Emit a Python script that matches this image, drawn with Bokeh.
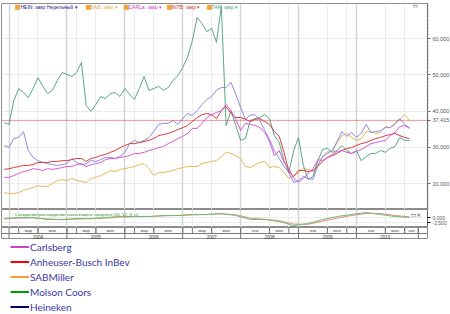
import pandas as pd
from bokeh.plotting import figure
from bokeh.layouts import column
from bokeh.models import (Range1d, FixedTicker, NumeralTickFormatter,
                          Span, Label, Grid, Legend, LegendItem, ColumnDataSource)
from bokeh.embed import file_html
from bokeh.resources import INLINE

# ---------------- data ----------------
months = [str(m) for m in pd.period_range("2003-12", "2010-12", freq="M")]

heineken = [30500, 29900, 32400, 32700, 34300, 29100, 27200, 26300, 25800, 25500, 25200, 25000,
            25200, 25500, 26900, 25800, 25200, 25500, 26300, 26100, 26600, 27200, 27200, 26900,
            27400, 28600, 31000, 31900, 31300, 31900, 32700, 34300, 36300, 36600, 36600, 37400,
            36300, 37900, 39300, 38800, 40100, 41800, 43200, 44000, 45700, 46500, 46500, 47900,
            44600, 41000, 37700, 38800, 39000, 37400, 34600, 32100, 29100, 26900, 24700, 23000,
            20300, 20800, 21900, 21400, 21100, 25000, 27400, 28300, 29100, 31600, 34300, 33000,
            34100, 32700, 33800, 36300, 34100, 34300, 34600, 35400, 35400, 36300, 37900, 36300, 35400]
sabmiller = [17500, 17200, 17200, 17500, 18100, 18600, 18900, 19400, 19200, 19200, 20000, 20800,
             21100, 20800, 21400, 20800, 20600, 20300, 21400, 21700, 22200, 22800, 23600, 23300,
             23900, 24100, 24400, 24700, 25200, 25500, 24100, 22200, 23000, 23000, 23300, 23600,
             24100, 24400, 24700, 24700, 24700, 25500, 25800, 26100, 26300, 27400, 28600, 28300,
             27700, 26900, 24700, 24400, 25200, 25800, 26100, 24400, 24700, 24400, 23000, 21400,
             22200, 23000, 24100, 23900, 23300, 25200, 27400, 28800, 28800, 31300, 33200, 33800,
             32700, 31900, 32400, 34300, 34300, 33800, 34100, 35700, 35400, 36800, 37700, 39000, 37400]
carlsberg = [21700, 21700, 22200, 22800, 23300, 23600, 24100, 23900, 23600, 24100, 23900, 24100,
             24400, 24700, 24700, 25200, 25500, 24700, 25200, 25500, 25800, 26600, 26900, 26900,
             27200, 27400, 27700, 28300, 28300, 28600, 29100, 29400, 29900, 30200, 31000, 31600,
             32400, 33000, 33800, 35200, 35200, 36600, 38200, 39000, 39600, 40100, 41800, 40100,
             37700, 34600, 36600, 36300, 36000, 35400, 34100, 31600, 27700, 29100, 25800, 24100,
             21400, 20300, 21400, 22800, 24100, 26600, 26300, 27200, 28000, 28800, 29100, 28600,
             28300, 28800, 29400, 30200, 31000, 31300, 31600, 31900, 33200, 34100, 35700, 36000, 35200]
ab_inbev = [23900, 24100, 24400, 24700, 25000, 25000, 25200, 25800, 25800, 25800, 26100, 26100,
            26300, 26300, 26600, 26900, 26900, 26100, 26900, 27200, 27700, 28000, 28600, 29100,
            29900, 30500, 31000, 31000, 31300, 31600, 31900, 32400, 33200, 33500, 33800, 34300,
            34900, 35400, 36000, 37100, 38200, 39000, 39300, 39000, 37900, 40100, 41200, 39300,
            38200, 38200, 37700, 37100, 37700, 37900, 37100, 36300, 34300, 33000, 28600, 23300,
            21900, 23600, 23600, 23300, 23600, 24700, 26100, 27200, 27700, 28300, 29100, 29700,
            29900, 30500, 31000, 31300, 31900, 32400, 32700, 33200, 33500, 33800, 33200, 32700, 32400]
molson = [36800, 36300, 42900, 46200, 45100, 43700, 46200, 49200, 46800, 44800, 45700, 48400,
          50600, 50100, 49500, 50600, 53400, 41500, 39900, 41800, 44000, 43400, 44800, 45100,
          44000, 46200, 44600, 43200, 46200, 49500, 45700, 46200, 46800, 45700, 46500, 48400,
          49800, 52000, 54800, 59400, 65800, 64100, 61900, 62800, 58900, 69000, 36000, 40100,
          36000, 31900, 32400, 37400, 37900, 38200, 39000, 37900, 33200, 31300, 26300, 23000,
          29100, 32700, 25000, 21100, 21900, 26300, 29400, 29700, 28600, 29100, 30500, 29100,
          28300, 29100, 26300, 27400, 28300, 28300, 29100, 28600, 29700, 30200, 32700, 31900, 31900]
last_price = 37415
last_price_label = "37,415"
price_ticks = [20000, 30000, 40000, 50000, 60000]

macd_months = months[::3]
macd = [-500, 0, 0, -1000, -1000, -500, -500, 0, 500, 500, 500, 1000, 1000, 1500, 1500, 2000,
        1000, -1000, -1000, -2000, -4000, -3000, -1000, 500, 1500, 2500, 1500, 500, 0]
macd_signal = [-700, -300, -200, -700, -1100, -800, -600, -300, 200, 400, 500, 800, 1000, 1300,
               1500, 1800, 1400, -300, -900, -1600, -3300, -3400, -1800, -300, 1000, 2000, 2000, 1000, 300]
macd_ticks = [0, -2500]
macd_tick_labels = ["0,000", "-2,500"]
macd_title = "Схождение/расхождение скользящего среднего (26, 12, 9, н)"

header_texts = ["HEIN: закр Недельный ▾", "SAB: закр ▾", "CARLa: закр ▾", "INTB: закр ▾", "TAP: закр ▾"]
header_colors = ["#23238f", "#e0a84a", "#c63fc6", "#d03030", "#4fa583"]

years = [2004, 2005, 2006, 2007, 2008, 2009, 2010]
month_cells_early = [(2, 6, "мар"), (6, 12, "июл")]          # 2004-2007
month_cells_late = [(0, 6, "янв"), (6, 10, "июл")]            # 2008-2010
last_cell = (10, 12.8, "ноя")                                  # 2010

legend_names = ["Carlsberg", "Anheuser-Busch InBev", "SABMiller", "Molson Coors", "Heineken"]
legend_colors = ["#cc44cc", "#ff0000", "#ff9933", "#00a000", "#000066"]

# ---------------- helpers ----------------
def to_x(m):
    return int(m[:4]) + (int(m[5:]) - 1) / 12.0

x = [to_x(m) for m in months]
xm = [to_x(m) for m in macd_months]

X0, X1 = 2003.870, 2011.228
Y0, Y1 = 12830, 69655
FW = 426
FH = 206

def px2x(px):
    return X0 + (px - 1) / FW * (X1 - X0)

def py2y(py):
    return Y1 - (py - 3) / float(FH) * (Y1 - Y0)

month_ticks = []
for yr in years:
    if yr <= 2007:
        month_ticks += [yr + 2 / 12, yr + 6 / 12]
    else:
        month_ticks += [yr + 6 / 12, yr + 10 / 12]
year_ticks = [float(y) for y in years]

FONT = "Liberation Sans"

# ---------------- main panel ----------------
p = figure(frame_width=FW, frame_height=FH, min_border_left=1, min_border_right=23,
           min_border_top=3, min_border_bottom=0,
           x_range=Range1d(X0, X1), y_range=Range1d(Y0, Y1),
           toolbar_location=None, output_backend="svg",
           x_axis_location=None, y_axis_location="right",
           background_fill_color="white", border_fill_color="white",
           outline_line_color="#8c8c8c")

ax = p.yaxis[0]
ax.ticker = FixedTicker(ticks=price_ticks + [last_price],
                        minor_ticks=list(range(13000, 70000, 1000)))
ax.formatter = NumeralTickFormatter(format="0,0")
ax.major_label_overrides = {last_price: last_price_label}
ax.major_label_text_font_size = "5.5px"
ax.major_label_text_font = FONT
ax.major_label_text_color = "#555555"
ax.major_tick_out = 3
ax.major_tick_in = 0
ax.minor_tick_out = 1
ax.minor_tick_in = 0
ax.major_label_standoff = 2
ax.axis_line_color = "#666666"
ax.major_tick_line_color = "#666666"
ax.minor_tick_line_color = "#888888"

p.ygrid.ticker = FixedTicker(ticks=price_ticks)
p.ygrid.grid_line_color = "#ebebeb"
p.xgrid.ticker = FixedTicker(ticks=month_ticks)
p.xgrid.grid_line_color = "#ececec"
p.add_layout(Grid(dimension=0, ticker=FixedTicker(ticks=year_ticks),
                  grid_line_color="#d4d4d4", grid_line_width=1.5))

src = ColumnDataSource(dict(x=x, hein=heineken, sab=sabmiller, carl=carlsberg,
                            intb=ab_inbev, tap=molson))
p.line("x", "sab", source=src, line_color="#e8b655", line_width=1)
p.line("x", "tap", source=src, line_color="#5aa886", line_width=1)
p.line("x", "hein", source=src, line_color="#8b8be8", line_width=1)
p.line("x", "intb", source=src, line_color="#d93c3c", line_width=1)
p.line("x", "carl", source=src, line_color="#d65ad6", line_width=1)

p.add_layout(Span(location=last_price, dimension="width", line_color="#e03434",
                  line_dash="1 1", line_width=1))

icon_px = [14, 85, 123, 166, 206]
text_px = [20, 90, 128, 171, 211]
for ipx, tpx, t, c in zip(icon_px, text_px, header_texts, header_colors):
    p.add_layout(Label(x=px2x(ipx), y=py2y(6), text="■", text_color="#efa640",
                       text_font_size="6.5px", text_font="DejaVu Sans", text_baseline="middle"))
    p.add_layout(Label(x=px2x(tpx), y=py2y(6), text=t, text_color=c,
                       text_font_size="5px", text_font=FONT, text_baseline="middle"))
p.add_layout(Label(x=px2x(412), y=py2y(5), text="▭", text_color="#555555",
                   text_font_size="6px", text_font="DejaVu Sans", text_baseline="middle"))

# ---------------- indicator panel ----------------
pi = figure(frame_width=FW, frame_height=18, min_border_left=1, min_border_right=23,
            min_border_top=0, min_border_bottom=0,
            x_range=p.x_range, y_range=Range1d(-5000, 4000),
            toolbar_location=None, output_backend="svg",
            x_axis_location=None, y_axis_location="right",
            background_fill_color="white", border_fill_color="white",
            outline_line_color="#8c8c8c")
ai = pi.yaxis[0]
ai.ticker = FixedTicker(ticks=macd_ticks)
ai.major_label_overrides = dict(zip(macd_ticks, macd_tick_labels))
ai.major_label_text_font_size = "5px"
ai.major_label_text_font = FONT
ai.major_label_text_color = "#555555"
ai.major_tick_out = 3
ai.major_tick_in = 0
ai.minor_tick_out = 0
ai.major_label_standoff = 2
ai.axis_line_color = "#666666"
pi.ygrid.grid_line_color = "#ececec"
pi.xgrid.ticker = FixedTicker(ticks=month_ticks)
pi.xgrid.grid_line_color = "#ececec"
pi.add_layout(Grid(dimension=0, ticker=FixedTicker(ticks=year_ticks),
                   grid_line_color="#d4d4d4", grid_line_width=1.5))
msrc = ColumnDataSource(dict(x=xm, macd=macd, sig=macd_signal))
pi.line("x", "sig", source=msrc, line_color="#e58a8a", line_width=1)
pi.line("x", "macd", source=msrc, line_color="#6cbf6c", line_width=1)
pi.add_layout(Label(x=px2x(14), y=1700, text=macd_title, text_color="#2f8f2f",
                    text_font_size="4.4px", text_font=FONT, text_baseline="middle"))
pi.add_layout(Label(x=px2x(410), y=1700, text="▭×", text_color="#444444",
                    text_font_size="6px", text_font="DejaVu Sans", text_baseline="middle"))

# ---------------- time axis rows ----------------
pt = figure(frame_width=FW, frame_height=12, min_border_left=1, min_border_right=23,
            min_border_top=0, min_border_bottom=0,
            x_range=p.x_range, y_range=Range1d(0, 2),
            toolbar_location=None, output_backend="svg",
            x_axis_location=None, y_axis_location=None,
            background_fill_color="white", border_fill_color="white",
            outline_line_color="#8c8c8c")
pt.grid.visible = False

sx, mlab_x, mlab_t = [], [], []
for yr in years:
    cells = month_cells_early if yr <= 2007 else month_cells_late
    if yr == 2010:
        cells = cells + [last_cell]
    for a, b, t in cells:
        sx += [yr + a / 12, yr + b / 12]
        mlab_x.append(yr + (a + b) / 24)
        mlab_t.append(t)
pt.segment(x0=sx, x1=sx, y0=[1] * len(sx), y1=[2] * len(sx), line_color="#777777", line_width=1)
yb = year_ticks + [2011.07]
pt.segment(x0=yb, x1=yb, y0=[0] * len(yb), y1=[2] * len(yb), line_color="#777777", line_width=1)
pt.segment(x0=[X0], x1=[X1], y0=[1], y1=[1], line_color="#777777", line_width=1)
pt.text(x=mlab_x, y=[1.5] * len(mlab_x), text=mlab_t, text_font_size="4px",
        text_align="center", text_baseline="middle", text_color="#333333")
ylab_x = [y + 0.5 for y in years]
pt.text(x=ylab_x, y=[0.5] * len(years), text=[str(y) for y in years], text_font_size="4.5px",
        text_align="center", text_baseline="middle", text_color="#333333")

# ---------------- picture legend ----------------
pl = figure(width=450, height=75, min_border=0, toolbar_location=None, output_backend="svg",
            x_range=Range1d(0, 1), y_range=Range1d(0, 1),
            x_axis_location=None, y_axis_location=None,
            background_fill_color="white", border_fill_color="white", outline_line_color=None)
pl.grid.visible = False
items = []
for name, c in zip(legend_names, legend_colors):
    r = pl.line(x=[5, 6], y=[5, 5], line_color=c, line_width=2)
    items.append(LegendItem(label=name, renderers=[r]))
leg = Legend(items=items, location=(9, 0), orientation="vertical",
             glyph_width=19, glyph_height=15, label_height=15, spacing=0, padding=0, margin=0,
             label_standoff=1, border_line_alpha=0, background_fill_alpha=0,
             label_text_font="Lato", label_text_font_size="10px", label_text_color="#3b37a6")
pl.add_layout(leg)

layout = column(p, pi, pt, pl, spacing=0)
open("out.html", "w").write(file_html(layout, INLINE))
